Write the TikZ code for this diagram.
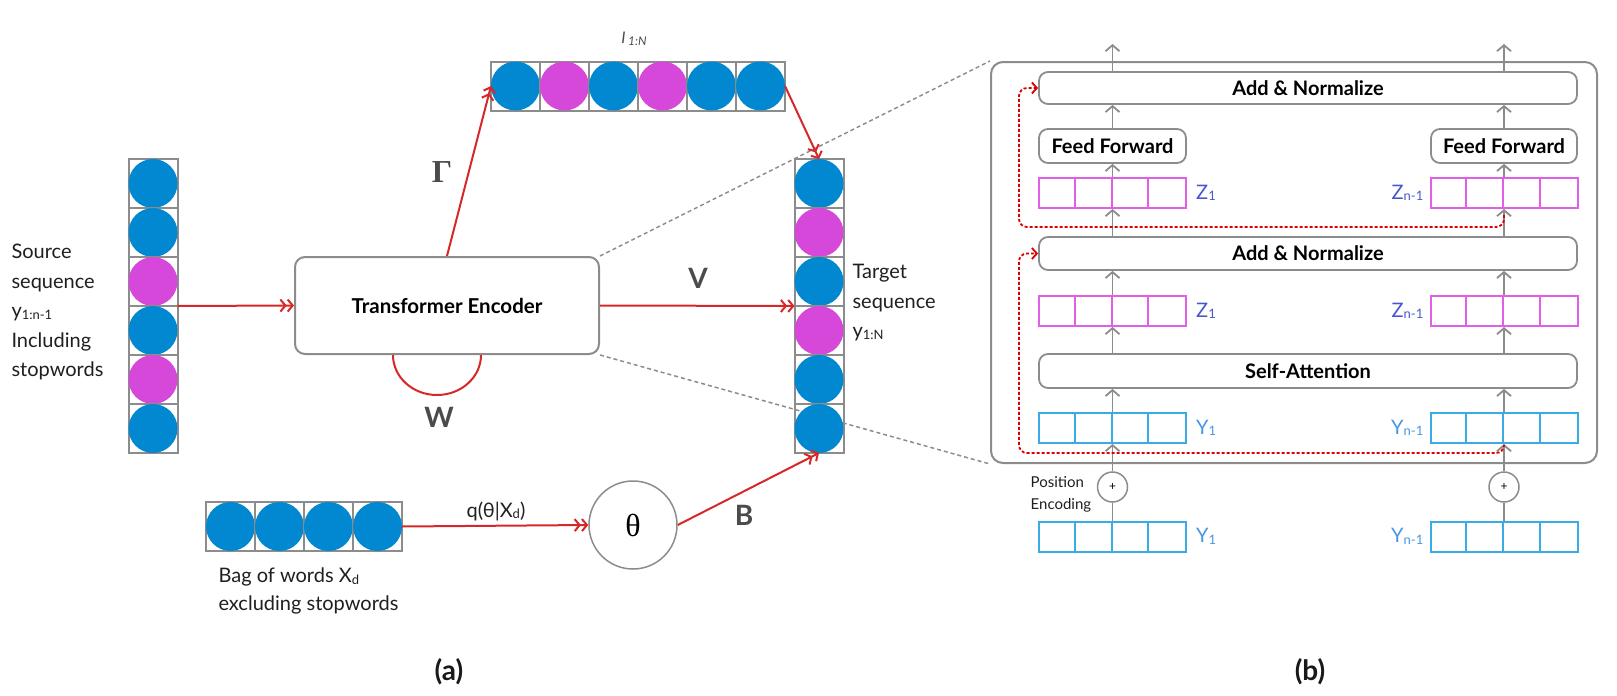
\documentclass[tikz,border=0pt]{standalone}
\usepackage[no-math]{fontspec}
\setmainfont{Lato}
\newfontfamily\greekSerif{Liberation Serif}
\usetikzlibrary{positioning, arrows.meta}
\definecolor{tokenBlue}{RGB}{2,136,209}
\definecolor{tokenPink}{RGB}{214,72,217}
\definecolor{linkRed}{RGB}{214,40,40}
\definecolor{frameGray}{RGB}{140,140,140}
\definecolor{labelGray}{RGB}{75,75,75}
\definecolor{zLabel}{RGB}{72,86,205}
\definecolor{zLine}{RGB}{225,95,230}
\definecolor{yLabel}{RGB}{70,150,230}
\definecolor{yLine}{RGB}{60,170,230}
\tikzstyle{canvas} = [x = 1pt, y = -1pt]
\tikzstyle{cellLine} = [draw=frameGray, line width=2pt]
\tikzstyle{seqBox} = [inner sep=0pt, outer sep=0pt]
\tikzstyle{redLink} = [color=linkRed, line width=2pt, -{Straight Barb[length=5pt,width=12pt]Straight Barb[length=5pt,width=12pt]}]
\tikzstyle{redLoop} = [color=linkRed, line width=2pt]
\tikzstyle{zoomLine} = [color=frameGray, line width=1.5pt, dash pattern=on 4pt off 3pt]
\tikzstyle{skipLine} = [color=red!85!black, line width=1.8pt, dash pattern=on 3pt off 2pt, -{Straight Barb[length=5pt,width=11pt]}]
\tikzstyle{flowLine} = [color=frameGray, line width=1.8pt]
\tikzstyle{flowArrow} = [flowLine, -{Straight Barb[length=6pt,width=14pt]}]
\tikzstyle{encBox} = [draw=frameGray, line width=2pt, rounded corners=10pt, fill=white, minimum width=304pt, minimum height=97pt, font=\fontsize{20.5}{24}\selectfont\bfseries]
\tikzstyle{panelBox} = [draw=frameGray, line width=2pt, rounded corners=12pt, minimum width=606pt, minimum height=401pt]
\tikzstyle{layerBox} = [draw=frameGray, line width=1.8pt, rounded corners=9pt, fill=white, inner sep=0pt, minimum height=32pt, font=\fontsize{20}{22}\selectfont\bfseries]
\tikzstyle{vecBox} = [line width=2pt, inner sep=0pt, minimum width=147pt, minimum height=30pt]
\tikzstyle{plusNode} = [circle, draw=frameGray, line width=1.5pt, fill=white, minimum size=30pt, inner sep=0pt, font=\fontsize{12}{12}\selectfont]
\tikzstyle{thetaNode} = [circle, draw=frameGray, line width=1.5pt, minimum size=88pt, inner sep=0pt, font=\fontsize{32}{34}\selectfont\greekSerif]
\tikzstyle{plainText} = [font=\fontsize{20}{29.5}\selectfont, text=black!88]
\tikzstyle{smallText} = [font=\fontsize{15}{22}\selectfont, text=black!88]
\tikzstyle{bigLabel} = [font=\fontsize{28}{30}\selectfont\bfseries, text=labelGray]
\tikzstyle{zText} = [font=\fontsize{20}{22}\selectfont, text=zLabel, inner sep=0pt]
\tikzstyle{yText} = [font=\fontsize{20}{22}\selectfont, text=yLabel, inner sep=0pt]
\tikzstyle{captionText} = [font=\fontsize{28}{30}\selectfont\bfseries, text=black!90]
\newcommand{\cell}{49}
\newcommand{\half}{24.5}
\newcommand{\lowsub}[2][13]{\raisebox{-1.5pt}{\fontsize{#1}{#1}\selectfont #2}}
\newcommand{\token}[3]{\draw [cellLine] (#1 - \half, #2 - \half) rectangle + (\cell, \cell); \fill [fill=#3] (#1, #2) circle (\half);}
\newcommand{\tokenColumn}[3]{
  \foreach \tok [count=\i from 0] in {#3} {
    \pgfmathsetmacro{\var}{#2 + \half + \cell * \i}
    \token{#1}{\var}{\tok}
  }
}
\newcommand{\tokenRow}[3]{
  \foreach \tok [count=\i from 0] in {#3} {
    \pgfmathsetmacro{\var}{#1 + \half + \cell * \i}
    \token{\var}{#2}{\tok}
  }
}
\newcommand{\vecRow}[4]{
  \node [vecBox, draw=#4] (#1) at (#2, #3) {};
  \foreach \k in {1,2,3} {
    \draw [#4, line width=2pt] ([xshift=\k * 36.75pt]#1.north west) -- ([xshift=\k * 36.75pt]#1.south west);
  }
}
\begin{document}
\begin{tikzpicture}[canvas]
\useasboundingbox (0,0) rectangle (1617,696);
% encoder and zoom frame
\node [encBox] (enc) at (447,305.5) {Transformer Encoder};
\node [panelBox] (panel) at (1294,262.5) {};
\draw [zoomLine] (enc.north east) -- (panel.north west);
\draw [zoomLine] (enc.south east) -- (panel.south west);
% token sequences
\tokenColumn{153}{159}{tokenBlue,tokenBlue,tokenPink,tokenBlue,tokenPink,tokenBlue}
\node [seqBox, minimum width=49pt, minimum height=294pt] (src) at (153,306) {};
\tokenColumn{819}{159}{tokenBlue,tokenPink,tokenBlue,tokenPink,tokenBlue,tokenBlue}
\node [seqBox, minimum width=49pt, minimum height=294pt] (tgt) at (819,306) {};
\tokenRow{491}{86}{tokenBlue,tokenPink,tokenBlue,tokenPink,tokenBlue,tokenBlue}
\node [seqBox, minimum width=294pt, minimum height=49pt] (iseq) at (638,86) {};
\tokenRow{206}{526.5}{tokenBlue,tokenBlue,tokenBlue,tokenBlue}
\node [seqBox, minimum width=196pt, minimum height=49pt] (bow) at (304,526.5) {};
\node [thetaNode] (theta) at (633,525) {θ};
\draw [redLink] (src.east) -- (enc.west);
\draw [redLink] (enc.east) -- (tgt.west);
\draw [redLink] (enc.north) -- (iseq.west);
\draw [redLink] (iseq.east) -- (tgt.north);
\draw [redLink] (bow.east) -- (theta.west);
\draw [redLink] (theta.east) -- (tgt.south);
\draw [redLoop] ([xshift=-54pt]enc.south) arc [start angle=180, end angle=0, x radius=44, y radius=40];
\node [bigLabel, font=\fontsize{32}{34}\selectfont\bfseries] (gammaLabel) at (442,172) {\greekSerif Γ};
\node [bigLabel] (vLabel) at (698,278) {V};
\node [bigLabel] (wLabel) at (439,417) {W};
\node [bigLabel] (bLabel) at (744,515) {B};
\node [plainText] (qLabel) at (496,511) {q(θ|X\lowsub{d})};
\node [smallText, font=\fontsize{16}{20}\selectfont, text=labelGray] (iLabel) at (634,39) {\textit{I}\,\lowsub[12]{\textit{1:N}}};
\node [plainText, align=left, anchor=west] (srcText) at (8,312) {Source\\sequence\\y\lowsub{1:n-1}\\Including\\stopwords};
\node [plainText, align=left, anchor=west] (tgtText) at (849,303) {Target\\sequence\\y\lowsub{1:N}};
\node [plainText, align=left, anchor=west, font=\fontsize{20}{28}\selectfont] (bowText) at (215,591) {Bag of words X\lowsub{d}\\excluding stopwords};
\node [captionText] (capA) at (449,672) {(a)};
\node [captionText] (capB) at (1310,672) {(b)};
% encoder layer
\node [layerBox, minimum width=538pt] (addTop) at (1308,88) {Add \& Normalize};
\node [layerBox, minimum width=147pt, minimum height=34pt] (ffL) at (1112.5,146) {Feed Forward};
\node [layerBox, minimum width=146pt, minimum height=34pt] (ffR) at (1504,146) {Feed Forward};
\vecRow{zTopL}{1112.5}{193}{zLine}
\vecRow{zTopR}{1504}{193}{zLine}
\node [layerBox, minimum width=538pt, minimum height=33pt] (addMid) at (1308,253.5) {Add \& Normalize};
\vecRow{zMidL}{1112.5}{311}{zLine}
\vecRow{zMidR}{1504}{311}{zLine}
\node [layerBox, minimum width=538pt, minimum height=34pt] (attn) at (1308,371) {Self-Attention};
\vecRow{yL}{1112.5}{428}{yLine}
\vecRow{yR}{1504}{428}{yLine}
\node [plusNode] (plusL) at (1112.5,487) {+};
\node [plusNode] (plusR) at (1504,487) {+};
\vecRow{yBotL}{1112.5}{536.5}{yLine}
\vecRow{yBotR}{1504}{536.5}{yLine}
\coordinate (outL) at (1112.5,44);
\coordinate (outR) at (1504,44);
\node [zText, right=9pt of zTopL] (zTopLText) {Z\lowsub{1}};
\node [zText, left=6pt of zTopR] (zTopRText) {Z\lowsub{n-1}};
\node [zText, right=9pt of zMidL] (zMidLText) {Z\lowsub{1}};
\node [zText, left=6pt of zMidR] (zMidRText) {Z\lowsub{n-1}};
\node [yText, right=9pt of yL] (yLText) {Y\lowsub{1}};
\node [yText, left=6pt of yR] (yRText) {Y\lowsub{n-1}};
\node [yText, right=9pt of yBotL] (yBotLText) {Y\lowsub{1}};
\node [yText, left=6pt of yBotR] (yBotRText) {Y\lowsub{n-1}};
\node [smallText, align=left, left=2pt of plusL, yshift=-7pt] (posText) {Position\\Encoding};
\foreach \side in {L,R} {
  \draw [flowLine] (yBot\side.north) -- (plus\side.south);
  \draw [flowArrow] (plus\side.north) -- (y\side.south);
  \draw [flowArrow] (y\side.north) -- (y\side.north |- attn.south);
  \draw [flowArrow] (y\side.north |- attn.north) -- (zMid\side.south);
  \draw [flowArrow] (zMid\side.north) -- (zMid\side.north |- addMid.south);
  \draw [flowArrow] (zMid\side.north |- addMid.north) -- (zTop\side.south);
  \draw [flowArrow] (zTop\side.north) -- (ff\side.south);
  \draw [flowArrow] (ff\side.north) -- (ff\side.north |- addTop.south);
  \draw [flowArrow] (ff\side.north |- addTop.north) -- (out\side);
}
\coordinate (skipTop) at (1504,215);
\coordinate (skipBot) at (1504,446);
\draw [skipLine, rounded corners=8pt] (skipTop) |- (1019,227) |- (addTop.west);
\draw [skipLine, rounded corners=8pt] (skipBot) |- (1019,453) |- (addMid.west);
\end{tikzpicture}
\end{document}
